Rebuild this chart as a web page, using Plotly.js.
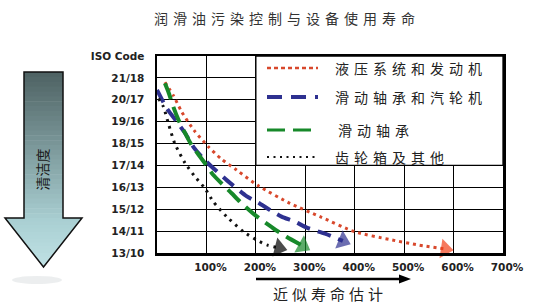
<!DOCTYPE html>
<html><head><meta charset="utf-8">
<script src="https://cdn.plot.ly/plotly-3.0.1.min.js"></script>
<style>body{margin:0;background:#fff}#chart{width:545px;height:308px}</style>
</head><body><div id="chart"></div>
<script>
// ---- data ----
const chartTitle = '润滑油污染控制与设备使用寿命';
const xAxisLabel = '近似寿命估计';
const cleanLabel = '清洁度';
const isoLevels = [0, 1, 2, 3, 4, 5, 6, 7, 8, 9];
const isoCodes = ['13/10', '14/11', '15/12', '16/13', '17/14', '18/15', '19/16', '20/17', '21/18', 'ISO Code'];
const lifeTicks = [100, 200, 300, 400, 500, 600, 700];
const lifeTickText = ['100%', '200%', '300%', '400%', '500%', '600%', '700%'];
const seriesNames = ['液压系统和发动机', '滑动轴承和汽轮机', '滑动轴承', '齿轮箱及其他'];

const hydraulicX = [16, 33, 50, 75, 104, 130, 161, 205, 269, 330, 400, 470, 530, 583];
const hydraulicY = [7.8, 7.2, 6.45, 5.6, 4.85, 4.3, 3.79, 3.07, 2.27, 1.66, 0.97, 0.62, 0.36, 0.18];
const turbineX = [0, 20, 40, 57, 75, 100, 141, 181, 205, 229, 252, 279, 303, 340, 376];
const turbineY = [7.45, 6.6, 6.0, 5.47, 4.8, 4.17, 3.33, 2.6, 2.3, 1.96, 1.66, 1.43, 1.16, 0.88, 0.55];
const bearingX = [16, 24, 33, 45, 57, 70, 97, 114, 151, 168, 198, 235, 262, 295];
const bearingY = [7.75, 7.3, 6.68, 6.0, 5.47, 4.93, 4.1, 3.56, 2.73, 2.34, 1.74, 1.13, 0.74, 0.32];
const gearboxX = [3, 13, 23, 36, 57, 77, 97, 114, 141, 175, 202, 222, 247];
const gearboxY = [7.06, 6.68, 5.92, 5.0, 4.1, 3.48, 2.95, 2.34, 1.66, 0.97, 0.59, 0.37, 0.23];

// ---- styles ----
const seriesX = [hydraulicX, turbineX, bearingX, gearboxX];
const seriesY = [hydraulicY, turbineY, bearingY, gearboxY];
const lineColors = ['#d8482c', '#2e3190', '#17892a', '#111111'];
const headColors = ['#f2401a', '#2e3190', '#17892a', '#000000'];
const lineDash = ['3px,4px', '14px,8px', '17px,8px', '2.5px,5px'];
const lineWidth = [3, 4, 4, 3];
const legendDash = ['4px,3px', '15px,9px', '18px,8px', '2px,4.5px'];
const legendWidth = [2.5, 4, 3, 2];
const legendRowY = [68, 97, 130, 157];
const legendTextX = [333, 333, 336, 333];

const L = 157, R = 503, T = 56, B = 253;
const px = v => (v - L) / (R - L);
const py = v => (B - v) / (B - T);

const traces = [];
for (let i = 0; i < 4; i++) {
  traces.push({
    x: seriesX[i], y: seriesY[i], type: 'scatter', mode: 'lines', name: seriesNames[i],
    line: {color: lineColors[i], dash: lineDash[i], width: lineWidth[i], shape: 'spline', smoothing: 0.6},
    showlegend: false, hoverinfo: 'skip'
  });
}
for (let i = 0; i < 4; i++) {
  const n = seriesX[i].length;
  traces.push({
    x: seriesX[i].slice(n - 2), y: seriesY[i].slice(n - 2), type: 'scatter', mode: 'markers',
    marker: {symbol: 'triangle-up', angleref: 'previous', size: [0, 17], color: headColors[i], line: {width: 0}},
    showlegend: false, hoverinfo: 'skip', cliponaxis: false
  });
}

const shapes = [];
function hex(c){return [parseInt(c.slice(1,3),16),parseInt(c.slice(3,5),16),parseInt(c.slice(5,7),16)];}
function mix(a,b,t){const A=hex(a),Bc=hex(b);return 'rgb('+A.map((v,k)=>Math.round(v+(Bc[k]-v)*t)).join(',')+')';}
// faint shadow under the left arrow
shapes.push({type: 'circle', xref: 'paper', yref: 'paper', layer: 'above',
  x0: px(12), x1: px(62), y0: py(284), y1: py(276), fillcolor: 'rgba(200,205,210,0.35)', line: {width: 0}});
const sx0 = 24, sx1 = 63, sTop = 72, sBot = 218, hx0 = 5, hx1 = 82, tipY = 267, cx = 43.5;
const nS = 30;
for (let k = 0; k < nS; k++) {
  const ya = sTop + (sBot - sTop) * k / nS, yb = sTop + (sBot - sTop) * (k + 1) / nS + 0.6;
  shapes.push({type: 'path', xref: 'paper', yref: 'paper', layer: 'above',
    path: `M${px(sx0)},${py(ya)} L${px(sx1)},${py(ya)} L${px(sx1)},${py(yb)} L${px(sx0)},${py(yb)} Z`,
    fillcolor: mix('#4f6364', '#a6cbce', k / (nS - 1)), line: {width: 0}});
}
const nH = 14;
for (let k = 0; k < nH; k++) {
  const ya = sBot + (tipY - sBot) * k / nH, yb = Math.min(tipY, sBot + (tipY - sBot) * (k + 1) / nH + 0.6);
  const ha = (tipY - ya) / (tipY - sBot) * (hx1 - hx0) / 2, hb = (tipY - yb) / (tipY - sBot) * (hx1 - hx0) / 2;
  shapes.push({type: 'path', xref: 'paper', yref: 'paper', layer: 'above',
    path: `M${px(cx - ha)},${py(ya)} L${px(cx + ha)},${py(ya)} L${px(cx + hb)},${py(yb)} L${px(cx - hb)},${py(yb)} Z`,
    fillcolor: mix('#a9cfd2', '#bfe1e4', k / (nH - 1)), line: {width: 0}});
}
shapes.push({type: 'path', xref: 'paper', yref: 'paper', layer: 'above',
  path: `M${px(sx0)},${py(sTop)} L${px(sx1)},${py(sTop)} L${px(sx1)},${py(sBot)} L${px(hx1)},${py(sBot)} L${px(cx)},${py(tipY)} L${px(hx0)},${py(sBot)} L${px(sx0)},${py(sBot)} Z`,
  line: {color: '#111', width: 1.5}, fillcolor: 'rgba(0,0,0,0)'});
// legend box
shapes.push({type: 'rect', xref: 'x', yref: 'y', x0: 200, x1: 700, y0: 4, y1: 9, layer: 'above',
  fillcolor: '#fff', line: {color: '#000', width: 1.3}});
for (let i = 0; i < 4; i++) {
  shapes.push({type: 'line', xref: 'paper', yref: 'paper', layer: 'above',
    x0: px(267), x1: px(318), y0: py(legendRowY[i]), y1: py(legendRowY[i]),
    line: {color: lineColors[i], width: legendWidth[i], dash: legendDash[i]}});
}
// x-axis direction arrow
shapes.push({type: 'line', xref: 'paper', yref: 'paper', x0: px(256), x1: px(402), y0: py(279), y1: py(279),
  line: {color: '#000', width: 2.5}});
shapes.push({type: 'path', xref: 'paper', yref: 'paper',
  path: `M${px(399)},${py(274.5)} L${px(411)},${py(279)} L${px(399)},${py(283.5)} Z`,
  fillcolor: '#000', line: {width: 0}});

const cjk = '"Noto Sans CJK SC", sans-serif';
const spacing = [5, 4, 0, 5, 5, 5, 5];
const annotations = [
  {text: chartTitle, xref: 'paper', yref: 'paper', x: px(287), y: py(18), showarrow: false,
   xanchor: 'center', yanchor: 'middle', font: {family: cjk, size: 14, color: '#333'}},
  {text: xAxisLabel, xref: 'paper', yref: 'paper', x: px(330), y: py(293), showarrow: false,
   xanchor: 'center', yanchor: 'middle', font: {family: cjk, size: 15, color: '#222'}},
  {text: cleanLabel, xref: 'paper', yref: 'paper', x: px(41.5), y: py(170), showarrow: false, textangle: -90,
   xanchor: 'center', yanchor: 'middle', font: {family: cjk, size: 14, color: '#1a1a1a'}}
];
for (let i = 0; i < 4; i++) {
  const extra = seriesNames[i].length * spacing[3 + i] / 2;
  annotations.push({text: seriesNames[i], xref: 'paper', yref: 'paper', x: px(legendTextX[i] + extra), y: py(legendRowY[i]),
    showarrow: false, xanchor: 'left', yanchor: 'middle', font: {family: cjk, size: 14, color: '#222'}});
}

const tickFont = {family: '"DejaVu Sans", sans-serif', size: 10.5, color: '#222', weight: 'bold'};
const layout = {
  width: 545, height: 308,
  margin: {l: L, r: 545 - R, t: T, b: 308 - B},
  paper_bgcolor: '#fff', plot_bgcolor: '#fff',
  showlegend: false,
  xaxis: {range: [0, 700], tickvals: lifeTicks, ticktext: lifeTickText, showgrid: true, gridcolor: '#000', gridwidth: 1.2,
    zeroline: false, showline: true, mirror: true, linecolor: '#000', linewidth: 2.5, ticks: '',
    tickfont: tickFont, ticklabelstandoff: 3, ticklabelshift: 4, fixedrange: true},
  yaxis: {range: [0, 9], tickvals: isoLevels, ticktext: isoCodes, showgrid: true, gridcolor: '#000', gridwidth: 1.2,
    zeroline: false, showline: true, mirror: true, linecolor: '#000', linewidth: 2.5, ticks: '',
    tickfont: tickFont, ticklabelstandoff: 8, fixedrange: true},
  shapes: shapes,
  annotations: annotations
};
Plotly.newPlot('chart', traces, layout, {displayModeBar: false, staticPlot: true}).then(() => {
  document.querySelectorAll('g.annotation').forEach(g => {
    const idx = +g.getAttribute('data-index');
    const t = g.querySelector('text.annotation-text');
    if (t && spacing[idx]) t.style.letterSpacing = spacing[idx] + 'px';
  });
});
</script>
</body></html>
